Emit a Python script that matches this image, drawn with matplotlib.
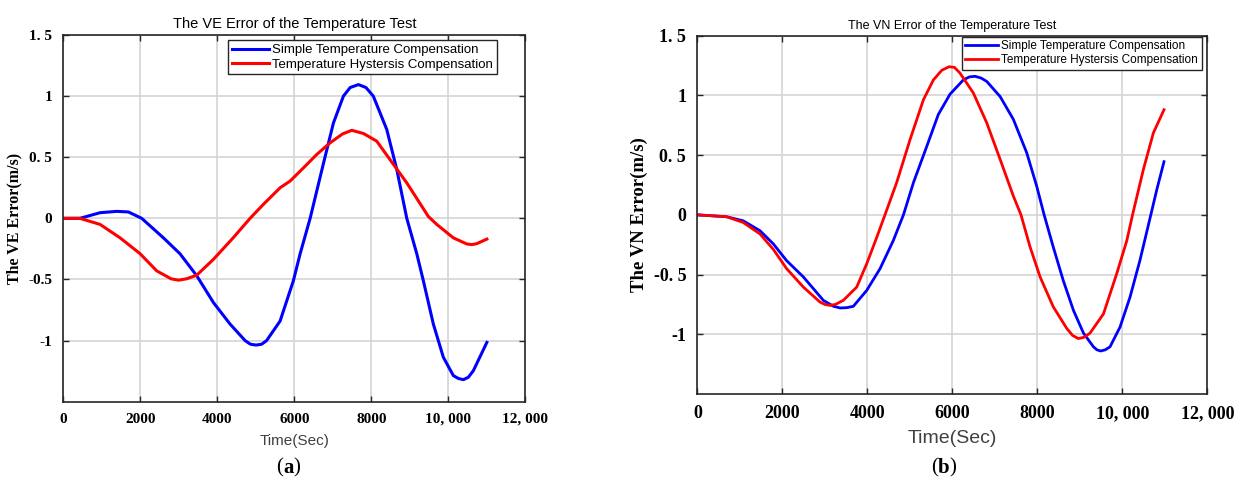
import matplotlib
matplotlib.use("Agg")
import matplotlib.pyplot as plt

# (a) VE error
ve_t_simple = [0, 430, 955, 1385, 1690, 2035, 2600, 3030, 3465, 3900, 4330, 4720, 4860, 5005, 5150,
               5280, 5630, 5975, 6150, 6410, 6760, 7015, 7275, 7450, 7665, 7860, 8050, 8400, 8660,
               8920, 9180, 9350, 9610, 9870, 10130, 10260, 10390, 10520, 10650, 11000]
ve_simple = [0.0, 0.0, 0.046, 0.057, 0.052, 0.0, -0.16, -0.29, -0.47, -0.69, -0.865, -1.0, -1.03, -1.037, -1.03,
             -1.0, -0.84, -0.51, -0.29, 0.0, 0.455, 0.78, 1.0, 1.07, 1.094, 1.07, 1.0, 0.727, 0.4,
             0.0, -0.29, -0.51, -0.865, -1.137, -1.287, -1.31, -1.32, -1.30, -1.246, -1.015]
ve_t_hyst = [0, 430, 955, 1475, 1995, 2425, 2800, 2990, 3200, 3465, 3900, 4415, 4850, 5195, 5630, 5890,
             6240, 6580, 6930, 7250, 7490, 7795, 8140, 8485, 8920, 9480, 9700, 10130, 10480, 10610, 10740, 11000]
ve_hyst = [0.0, 0.0, -0.05, -0.16, -0.29, -0.43, -0.495, -0.506, -0.495, -0.465, -0.335, -0.158, 0.0, 0.114, 0.25, 0.305,
           0.414, 0.522, 0.618, 0.69, 0.72, 0.694, 0.631, 0.48, 0.29, 0.015, -0.05, -0.16, -0.21, -0.215, -0.207, -0.17]

# (b) VN error
vn_t_simple = [0, 690, 1080, 1475, 1790, 2100, 2495, 2965, 3200, 3360, 3520, 3670, 3985, 4300, 4610, 4850,
               5085, 5400, 5670, 5945, 6260, 6400, 6535, 6680, 6810, 7125, 7435, 7750, 7985, 8160,
               8375, 8610, 8850, 9085, 9320, 9400, 9490, 9600, 9710, 9945, 10180, 10415, 10670, 10810, 10980]
vn_simple = [0.0, -0.016, -0.05, -0.133, -0.244, -0.383, -0.52, -0.716, -0.765, -0.78, -0.777, -0.766, -0.633, -0.45, -0.216, 0.0,
             0.27, 0.575, 0.84, 1.01, 1.13, 1.155, 1.16, 1.145, 1.117, 0.99, 0.80, 0.52, 0.24, 0.0,
             -0.27, -0.55, -0.8, -0.99, -1.105, -1.13, -1.14, -1.13, -1.105, -0.94, -0.69, -0.38, 0.0, 0.21, 0.445]
vn_t_hyst = [0, 690, 1080, 1475, 1790, 2100, 2495, 2885, 3000, 3120, 3250, 3435, 3750, 3985, 4220, 4415,
             4690, 5005, 5320, 5555, 5750, 5920, 6050, 6180, 6495, 6810, 7125, 7435, 7615,
             7830, 8065, 8375, 8690, 8830, 8965, 9100, 9240, 9555, 9870, 10105, 10240, 10495, 10730, 10980]
vn_hyst = [0.0, -0.016, -0.064, -0.16, -0.29, -0.45, -0.605, -0.73, -0.75, -0.758, -0.75, -0.716, -0.605, -0.41, -0.19, 0.0,
           0.27, 0.63, 0.964, 1.13, 1.21, 1.24, 1.235, 1.187, 1.02, 0.77, 0.464, 0.158, 0.0,
           -0.27, -0.52, -0.77, -0.95, -1.01, -1.036, -1.025, -0.99, -0.83, -0.49, -0.216, 0.0, 0.38, 0.686, 0.88]

xticks = [0, 2000, 4000, 6000, 8000, 10000, 12000]
xticklabels = ["0", "2000", "4000", "6000", "8000", "10, 000", "12, 000"]
yticks = [-1, -0.5, 0, 0.5, 1, 1.5]
yticklabels_a = ["-1", "-0.5", "0", "0. 5", "1", "1. 5"]
yticklabels_b = ["-1", "-0. 5", "0", "0. 5", "1", "1. 5"]
labels = ["Simple Temperature Compensation", "Temperature Hystersis Compensation"]

fig = plt.figure(figsize=(12.47, 4.87), dpi=100)
ax1 = fig.add_axes([0.0508, 0.1752, 0.3705, 0.753])
ax2 = fig.add_axes([0.5592, 0.1910, 0.4090, 0.7357])


def style(ax, ylabels, tick_fs, title, title_fs, xlab, xlab_fs, ylab, ylab_fs, leg_fs, anchor):
    ax.set_xlim(0, 12000)
    ax.set_ylim(-1.5, 1.5)
    ax.set_xticks(xticks)
    ax.set_xticklabels(xticklabels)
    ax.set_yticks(yticks)
    ax.set_yticklabels(ylabels)
    for lab in ax.get_xticklabels() + ax.get_yticklabels():
        lab.set_family("Liberation Serif")
        lab.set_weight("bold")
        lab.set_fontsize(tick_fs)
    ax.tick_params(direction="in", length=4, width=1, top=True, right=True,
                   colors="#262626", labelcolor="black", pad=8)
    ax.grid(True, color="#d4d4d4", linewidth=1.2)
    ax.set_axisbelow(True)
    for sp in ax.spines.values():
        sp.set_color("#262626")
        sp.set_linewidth(1.2)
    ax.set_title(title, fontsize=title_fs, family="Liberation Sans", pad=5)
    ax.set_xlabel(xlab, fontsize=xlab_fs, family="Liberation Sans", color="#404040", labelpad=6)
    ax.set_ylabel(ylab, fontsize=ylab_fs, family="Liberation Serif", weight="bold")
    leg = ax.legend(loc="upper right", bbox_to_anchor=anchor, fancybox=False,
                    edgecolor="#262626", framealpha=1, borderaxespad=0,
                    prop={"family": "Liberation Sans", "size": leg_fs},
                    handlelength=2.8, handletextpad=0.25, labelspacing=0.15,
                    borderpad=0.3)
    leg.get_frame().set_linewidth(1.0)


ax1.plot(ve_t_simple, ve_simple, color="#0000ff", lw=2.2, label=labels[0], solid_joinstyle="round")
ax1.plot(ve_t_hyst, ve_hyst, color="#ff0000", lw=2.2, label=labels[1], solid_joinstyle="round")
style(ax1, yticklabels_a, 11, "The VE Error of the Temperature Test", 10.5,
      "Time(Sec)", 11, "The VE Error(m/s)", 11.5, 9.5, (0.939, 0.986))

ax2.plot(vn_t_simple, vn_simple, color="#0000ff", lw=2.0, label=labels[0], solid_joinstyle="round")
ax2.plot(vn_t_hyst, vn_hyst, color="#ff0000", lw=2.0, label=labels[1], solid_joinstyle="round")
style(ax2, yticklabels_b, 13, "The VN Error of the Temperature Test", 9,
      "Time(Sec)", 14, "The VN Error(m/s)", 13.5, 8.5, (0.989, 0.997))

fig.text(0.227, 0.04, "(", ha="right", va="center", fontsize=15, family="Liberation Serif")
fig.text(0.227, 0.04, "a", ha="left", va="center", fontsize=15, family="Liberation Serif", weight="bold")
fig.text(0.2355, 0.04, ")", ha="left", va="center", fontsize=15, family="Liberation Serif")
fig.text(0.752, 0.04, "(", ha="right", va="center", fontsize=15, family="Liberation Serif")
fig.text(0.752, 0.04, "b", ha="left", va="center", fontsize=15, family="Liberation Serif", weight="bold")
fig.text(0.7615, 0.04, ")", ha="left", va="center", fontsize=15, family="Liberation Serif")

fig.savefig("out.png", dpi=100)
